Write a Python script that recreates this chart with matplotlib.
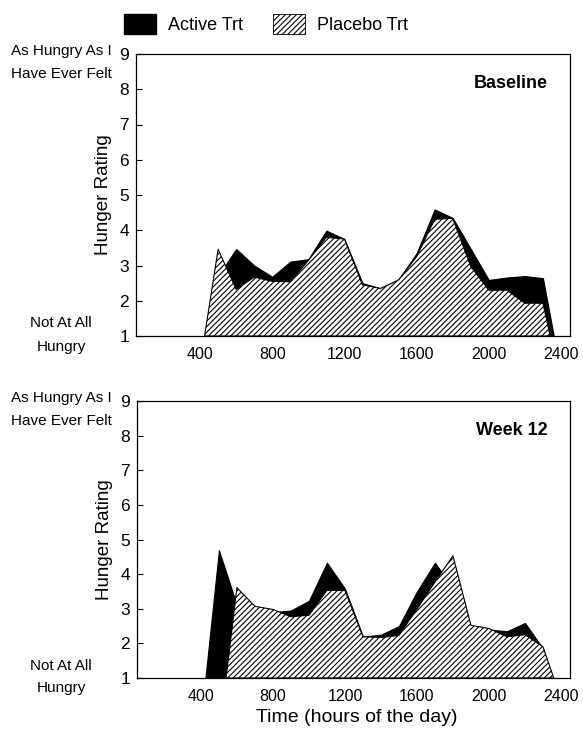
import matplotlib
matplotlib.use("Agg")
import matplotlib.pyplot as plt
import matplotlib.transforms as mtransforms
from matplotlib.patches import Patch

plt.rcParams['font.family'] = ['Liberation Sans', 'DejaVu Sans']
plt.rcParams['hatch.linewidth'] = 0.8

# ---- data (hour of day, hunger rating) ----
base_active_t = [425, 500, 600, 700, 800, 900, 1000, 1100, 1200, 1300, 1400, 1500,
                 1600, 1700, 1800, 1900, 2000, 2100, 2200, 2300, 2360]
base_active_v = [1, 2.7, 3.47, 3.0, 2.68, 3.11, 3.18, 3.99, 3.75, 2.5, 2.35, 2.6,
                 3.35, 4.59, 4.35, 3.47, 2.59, 2.66, 2.70, 2.64, 1]
base_placebo_t = [425, 500, 600, 700, 800, 900, 1000, 1100, 1200, 1300, 1400, 1500,
                  1600, 1700, 1800, 1900, 2000, 2100, 2200, 2300, 2340]
base_placebo_v = [1, 3.46, 2.32, 2.67, 2.55, 2.54, 3.14, 3.80, 3.75, 2.45, 2.35, 2.59,
                  3.25, 4.31, 4.34, 2.97, 2.30, 2.30, 1.93, 1.93, 1]

wk12_active_t = [425, 500, 600, 700, 800, 900, 1000, 1100, 1200, 1300, 1400, 1500,
                 1600, 1700, 1800, 1900, 2000, 2100, 2200, 2300, 2350]
wk12_active_v = [1, 4.69, 3.1, 3.0, 2.9, 2.95, 3.23, 4.33, 3.58, 2.2, 2.25, 2.5,
                 3.5, 4.33, 3.6, 2.45, 2.40, 2.35, 2.59, 1.85, 1]
wk12_placebo_t = [540, 600, 700, 800, 900, 1000, 1100, 1200, 1300, 1400, 1500,
                  1600, 1700, 1800, 1900, 2000, 2100, 2200, 2300, 2360]
wk12_placebo_v = [1, 3.61, 3.07, 2.98, 2.77, 2.81, 3.53, 3.53, 2.19, 2.17, 2.23,
                  2.99, 3.77, 4.53, 2.52, 2.43, 2.19, 2.25, 1.90, 1]

panel_titles = ["Baseline", "Week 12"]
x_ticks = [400, 800, 1200, 1600, 2000, 2400]
y_ticks = [1, 2, 3, 4, 5, 6, 7, 8, 9]
legend_labels = ["Active Trt", "Placebo Trt"]

W, H = 583, 736
fig = plt.figure(figsize=(W / 100, H / 100), dpi=100)

def px_axes(left, top, right, bottom):
    return fig.add_axes([left / W, 1 - bottom / H, (right - left) / W, (bottom - top) / H])

ax1 = px_axes(136, 54, 570, 336)
ax2 = px_axes(137, 401, 570, 678)

panels = [
    (ax1, base_active_t, base_active_v, base_placebo_t, base_placebo_v, panel_titles[0]),
    (ax2, wk12_active_t, wk12_active_v, wk12_placebo_t, wk12_placebo_v, panel_titles[1]),
]

for ax, at, av, pt, pv, title in panels:
    ax.fill_between(at, av, 1, facecolor='black', edgecolor='black', linewidth=0.8, zorder=2)
    ax.fill_between(pt, pv, 1, facecolor='white', edgecolor='black', hatch='//////',
                    linewidth=0.8, zorder=3)
    ax.set_xlim(45, 2450)
    ax.set_ylim(1, 9)
    ax.set_xticks(x_ticks)
    ax.set_yticks(y_ticks)
    ax.tick_params(axis='x', length=0, labelsize=11.5, pad=8)
    ax.tick_params(axis='y', direction='in', length=4, width=0.8, labelsize=12.5, pad=5)
    for s in ax.spines.values():
        s.set_linewidth(0.9)
        s.set_zorder(5)
    ax.set_ylabel("Hunger Rating", fontsize=13.5, labelpad=5)
    ax.text(0.948, 0.895, title, transform=ax.transAxes, ha='right', va='center',
            fontsize=13, fontweight='bold')
    tr = mtransforms.blended_transform_factory(fig.transFigure, ax.transData)
    for txt, yv in [("As Hungry As I", 9.09), ("Have Ever Felt", 8.43),
                    ("Not At All", 1.36), ("Hungry", 0.7)]:
        ax.text(61 / W, yv, txt, transform=tr, ha='center', va='center',
                fontsize=11, clip_on=False)

fig.text(357 / W, 1 - 718 / H, "Time (hours of the day)", ha='center', va='center',
         fontsize=14)

handles = [Patch(facecolor='black', edgecolor='black'),
           Patch(facecolor='white', edgecolor='black', hatch='//////', linewidth=0.6)]
fig.legend(handles, legend_labels, loc='center', bbox_to_anchor=(266 / W, 1 - 24 / H),
           ncol=2, frameon=False, fontsize=13, handlelength=1.75, handleheight=1.3,
           columnspacing=1.7, handletextpad=0.65)

fig.savefig("out.png", dpi=100)
